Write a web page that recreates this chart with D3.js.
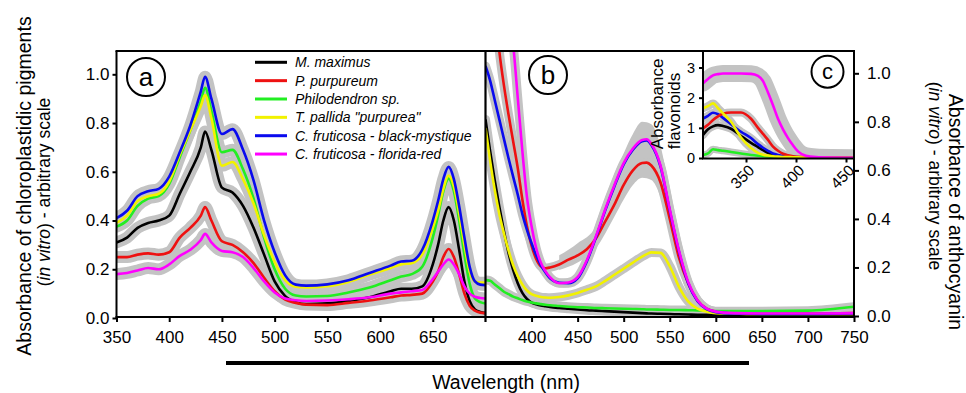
<!DOCTYPE html>
<html><head><meta charset="utf-8">
<script src="https://cdn.jsdelivr.net/npm/d3@7"></script>
<style>
body{margin:0;background:#fff}
svg text{font-family:Arial,"Liberation Sans",sans-serif;fill:#000}
</style>
</head><body>
<svg id="chart" width="966" height="393"></svg>
<script>
// ---------------- DATA ----------------
const seriesNames = ["M. maximus", "P. purpureum", "Philodendron sp.", "T. pallida \"purpurea\"", "C. fruticosa - black-mystique", "C. fruticosa - florida-red"];
const seriesColors = ["#000000", "#ee1111", "#22ee22", "#f2f200", "#0a0aee", "#ff00ff"];

// Panel a: chloroplastidic pigments
const waveA = [350,360,370,380,390,400,410,420,430,434,440,450,460,470,480,490,500,510,520,530,550,570,590,610,620,630,640,650,655,660,665,670,675,680,685,690,695,700];
const blackA = [0.31,0.33,0.37,0.39,0.40,0.42,0.51,0.60,0.70,0.765,0.69,0.535,0.515,0.46,0.37,0.26,0.15,0.09,0.065,0.057,0.06,0.07,0.085,0.11,0.12,0.12,0.13,0.22,0.30,0.40,0.455,0.40,0.28,0.15,0.07,0.035,0.025,0.02];
const redA = [0.25,0.25,0.26,0.265,0.26,0.27,0.33,0.37,0.42,0.455,0.40,0.315,0.30,0.27,0.225,0.165,0.11,0.075,0.062,0.055,0.053,0.062,0.072,0.085,0.092,0.095,0.10,0.15,0.19,0.25,0.283,0.25,0.18,0.10,0.05,0.03,0.022,0.02];
const greenA = [0.375,0.40,0.46,0.49,0.50,0.55,0.66,0.77,0.89,0.945,0.85,0.68,0.69,0.61,0.49,0.33,0.20,0.12,0.092,0.088,0.09,0.105,0.125,0.155,0.17,0.18,0.21,0.33,0.42,0.52,0.572,0.52,0.40,0.26,0.14,0.08,0.065,0.06];
const yellowA = [0.39,0.42,0.48,0.50,0.51,0.56,0.67,0.77,0.87,0.915,0.82,0.625,0.64,0.57,0.47,0.34,0.23,0.155,0.128,0.125,0.13,0.148,0.178,0.205,0.22,0.225,0.26,0.37,0.44,0.53,0.585,0.54,0.43,0.30,0.19,0.15,0.145,0.145];
const blueA = [0.41,0.44,0.50,0.52,0.53,0.58,0.68,0.79,0.93,0.99,0.90,0.755,0.775,0.69,0.565,0.40,0.27,0.175,0.137,0.133,0.138,0.155,0.185,0.215,0.232,0.235,0.28,0.40,0.48,0.57,0.62,0.57,0.46,0.33,0.21,0.15,0.137,0.135];
const magentaA = [0.18,0.185,0.195,0.205,0.20,0.22,0.255,0.28,0.32,0.345,0.31,0.275,0.27,0.25,0.205,0.15,0.105,0.08,0.073,0.07,0.072,0.077,0.085,0.10,0.105,0.11,0.115,0.16,0.19,0.22,0.24,0.22,0.18,0.13,0.10,0.087,0.082,0.08];

// Panel b: anthocyanin
const waveB = [350,355,360,365,370,375,380,385,390,395,400,405,410,415,420,430,440,450,460,470,480,490,500,510,520,525,530,540,550,560,570,580,590,600,620,650,700,750];
const blackB = [0.81,0.68,0.56,0.45,0.35,0.26,0.19,0.135,0.095,0.07,0.055,0.048,0.043,0.04,0.037,0.033,0.03,0.027,0.024,0.022,0.02,0.018,0.016,0.014,0.012,0.011,0.01,0.009,0.008,0.007,0.006,0.005,0.005,0.005,0.005,0.005,0.005,0.005];
const redB = [1.6,1.45,1.28,1.09,0.95,0.83,0.72,0.61,0.48,0.37,0.29,0.235,0.205,0.197,0.20,0.212,0.232,0.25,0.275,0.32,0.39,0.46,0.54,0.60,0.63,0.632,0.62,0.55,0.40,0.24,0.135,0.065,0.03,0.018,0.012,0.01,0.01,0.012];
const greenB = [0.148,0.145,0.13,0.115,0.10,0.09,0.08,0.073,0.066,0.06,0.056,0.052,0.049,0.046,0.044,0.041,0.038,0.036,0.035,0.033,0.032,0.031,0.03,0.029,0.028,0.027,0.027,0.026,0.025,0.025,0.024,0.023,0.022,0.02,0.02,0.02,0.022,0.038];
const yellowB = [0.775,0.64,0.52,0.42,0.34,0.27,0.21,0.165,0.13,0.105,0.09,0.083,0.078,0.076,0.075,0.078,0.085,0.095,0.108,0.122,0.145,0.17,0.195,0.22,0.245,0.255,0.262,0.26,0.205,0.12,0.06,0.03,0.018,0.012,0.01,0.008,0.008,0.008];
const blueB = [1.03,0.97,0.89,0.81,0.73,0.65,0.574,0.50,0.42,0.355,0.30,0.25,0.21,0.18,0.155,0.137,0.135,0.155,0.225,0.325,0.435,0.535,0.625,0.685,0.72,0.723,0.705,0.615,0.435,0.265,0.135,0.062,0.028,0.016,0.01,0.008,0.008,0.01];
const magentaB = [2.2,2.0,1.8,1.6,1.42,1.26,1.12,0.90,0.68,0.49,0.37,0.28,0.22,0.185,0.16,0.135,0.138,0.16,0.23,0.33,0.44,0.54,0.63,0.69,0.725,0.728,0.71,0.62,0.44,0.27,0.14,0.065,0.03,0.018,0.012,0.01,0.01,0.012];
// grey spread around the anthocyanin peak (panel b)
const bandWaveB = [430,450,470,490,500,510,520,530,540,550,560,570,580];
const bandLowB = [0.19,0.22,0.28,0.41,0.48,0.54,0.57,0.56,0.49,0.35,0.2,0.11,0.05];
const bandHighB = [0.25,0.3,0.37,0.58,0.67,0.75,0.80,0.79,0.70,0.51,0.32,0.17,0.08];

// Panel c (inset): flavonoids
const waveC = [307,312,317,322,327,335,345,355,362,367,372,377,382,387,392,397,402,410,420,435,457];
const blackC = [0.76,0.95,1.05,1.09,1.06,0.97,0.73,0.5,0.36,0.26,0.17,0.1,0.06,0.04,0.03,0.025,0.02,0.015,0.012,0.01,0.01];
const redC = [0.98,1.1,1.26,1.38,1.47,1.51,1.51,1.3,1.0,0.8,0.6,0.38,0.24,0.14,0.09,0.055,0.04,0.025,0.02,0.015,0.01];
const greenC = [0.1,0.15,0.29,0.26,0.24,0.2,0.15,0.1,0.075,0.06,0.05,0.04,0.03,0.025,0.02,0.017,0.015,0.012,0.01,0.01,0.01];
const yellowC = [1.65,1.72,1.81,1.65,1.48,1.2,0.68,0.33,0.17,0.11,0.08,0.06,0.045,0.035,0.03,0.025,0.02,0.015,0.012,0.01,0.01];
const blueC = [1.31,1.4,1.5,1.45,1.33,1.12,0.87,0.66,0.46,0.34,0.24,0.15,0.1,0.065,0.045,0.035,0.025,0.02,0.015,0.012,0.01];
const magentaC = [2.48,2.62,2.74,2.78,2.8,2.8,2.8,2.79,2.72,2.55,2.17,1.75,1.3,0.95,0.66,0.42,0.22,0.07,0.03,0.015,0.01];

const ticksYA = [0,0.2,0.4,0.6,0.8,1.0];
const ticksXA = [350,400,450,500,550,600,650];
const ticksXB = [400,450,500,550,600,650,700,750];
const ticksYC = [0,1,2,3];
const ticksXC = [350,400,450];

// ---------------- LAYOUT ----------------
const svg = d3.select("#chart");
const frameTop = 51, frameBottom = 317;
const xA = d3.scaleLinear().domain([350,700]).range([116.5,485.5]);
const xB = d3.scaleLinear().domain([350,750]).range([485.5,854]);
const yA = d3.scaleLinear().domain([0,1]).range([318,74.3]);
const yB = d3.scaleLinear().domain([0,1]).range([316,73.3]);
const xC = d3.scaleLinear().domain([307,457]).range([703,853]);
const yC = d3.scaleLinear().domain([0,3]).range([158,67.5]);

const defs = svg.append("defs");
defs.append("clipPath").attr("id","clipA").append("rect").attr("x",116.5).attr("y",frameTop).attr("width",369).attr("height",frameBottom-frameTop);
defs.append("clipPath").attr("id","clipB").append("rect").attr("x",485.5).attr("y",frameTop).attr("width",368.5).attr("height",frameBottom-frameTop);
defs.append("clipPath").attr("id","clipC").append("rect").attr("x",703).attr("y",frameTop).attr("width",150).attr("height",108);

const grey = "#c3c3c3";

function drawPanel(g, wave, sets, colors, xs, ys, greyW, lineW){
  const line = d3.line().x((d,i)=>xs(wave[i])).y(d=>ys(d)).curve(d3.curveMonotoneX);
  sets.forEach((s,k)=>{
    g.append("path").attr("d", line(s)).attr("fill","none").attr("stroke",grey)
      .attr("stroke-width", Array.isArray(greyW)?greyW[k]:greyW).attr("stroke-linejoin","round").attr("stroke-linecap","round");
  });
  sets.forEach((s,k)=>{
    g.append("path").attr("d", line(s)).attr("fill","none").attr("stroke",colors[k])
      .attr("stroke-width", lineW).attr("stroke-linejoin","round");
  });
}

// Panel a
const gA = svg.append("g").attr("clip-path","url(#clipA)");
drawPanel(gA, waveA, [blackA, redA, greenA, yellowA, blueA, magentaA], seriesColors, xA, yA, 12, 2.6);

// Panel b
const gB = svg.append("g").attr("clip-path","url(#clipB)");
const bandArea = d3.area().x((d,i)=>xB(bandWaveB[i])).y0((d,i)=>yB(bandLowB[i])).y1(d=>yB(d)).curve(d3.curveMonotoneX);
gB.append("path").attr("d", bandArea(bandHighB)).attr("fill",grey);
drawPanel(gB, waveB, [blackB, redB, greenB, yellowB, blueB, magentaB], seriesColors, xB, yB, 9, 2.6);

// Inset c
svg.append("rect").attr("x",703).attr("y",frameTop).attr("width",151).attr("height",108).attr("fill","#fff");
const gC = svg.append("g").attr("clip-path","url(#clipC)");
const orderC = [2,0,4,1,3,5];
drawPanel(gC, waveC, [greenC, blackC, blueC, redC, yellowC, magentaC], orderC.map(i=>seriesColors[i]), xC, yC, [7,8,8,8,8,17], 2.6);

// ---------------- FRAME ----------------
const frame = svg.append("g").attr("stroke","#000").attr("stroke-width",2).attr("fill","none");
frame.append("line").attr("x1",115.5).attr("x2",855).attr("y1",frameTop).attr("y2",frameTop);
frame.append("line").attr("x1",116.5).attr("x2",116.5).attr("y1",frameTop).attr("y2",frameBottom+1);
frame.append("line").attr("x1",854).attr("x2",854).attr("y1",frameTop).attr("y2",frameBottom+1);
frame.append("line").attr("x1",115.5).attr("x2",855).attr("y1",frameBottom).attr("y2",frameBottom);
frame.append("line").attr("x1",485.5).attr("x2",485.5).attr("y1",frameTop).attr("y2",frameBottom+5).attr("stroke-width",2.2);
frame.append("line").attr("x1",703).attr("x2",703).attr("y1",frameTop).attr("y2",159);
frame.append("line").attr("x1",702).attr("x2",854).attr("y1",158.5).attr("y2",158.5);

// ---------------- AXES ----------------
function styleAxis(g, fs){
  g.select(".domain").remove();
  g.selectAll("line").attr("stroke","#000").attr("stroke-width",2);
  g.selectAll("text").style("font-size",fs+"px").attr("fill","#000");
}
const axL = svg.append("g").attr("transform","translate(116.5,0)")
  .call(d3.axisLeft(yA).tickValues(ticksYA).tickFormat(d3.format(".1f")).tickSize(4).tickPadding(3));
styleAxis(axL, 17);
const axR = svg.append("g").attr("transform","translate(854,0)")
  .call(d3.axisRight(yB).tickValues(ticksYA).tickFormat(d3.format(".1f")).tickSize(5).tickPadding(8));
styleAxis(axR, 17);
const axBA = svg.append("g").attr("transform",`translate(0,${frameBottom})`)
  .call(d3.axisBottom(xA).tickValues(ticksXA).tickFormat(d3.format("d")).tickSize(5).tickPadding(9));
styleAxis(axBA, 17);
const axBB = svg.append("g").attr("transform",`translate(0,${frameBottom})`)
  .call(d3.axisBottom(xB).tickValues(ticksXB).tickFormat(d3.format("d")).tickSize(5).tickPadding(9));
styleAxis(axBB, 17);
const axCL = svg.append("g").attr("transform","translate(703,0)")
  .call(d3.axisLeft(yC).tickValues(ticksYC).tickFormat(d3.format("d")).tickSize(4).tickPadding(4));
styleAxis(axCL, 14.5);
const axCB = svg.append("g").attr("transform","translate(0,158.5)")
  .call(d3.axisBottom(xC).tickValues(ticksXC).tickFormat(d3.format("d")).tickSize(4).tickPadding(4));
styleAxis(axCB, 15.5);
axCB.selectAll("text").attr("text-anchor","end").attr("dy","0.35em")
  .attr("transform","translate(5,9) rotate(-45)").attr("y",0).attr("x",0);

// ---------------- LABELS ----------------
function circleLabel(cx, cy, r, t, fs){
  svg.append("circle").attr("cx",cx).attr("cy",cy).attr("r",r).attr("fill","#fff").attr("stroke","#000").attr("stroke-width",2);
  svg.append("text").attr("x",cx).attr("y",cy).attr("dy","0.35em").attr("text-anchor","middle").style("font-size",fs+"px").text(t);
}
circleLabel(146, 77, 19, "a", 26);
circleLabel(548, 75, 19, "b", 26);
circleLabel(827.5, 71.7, 16, "c", 22);

// Legend
const leg = svg.append("g");
seriesNames.forEach((n,i)=>{
  const y = 62.3 + i*18.35;
  leg.append("line").attr("x1",255).attr("x2",287).attr("y1",y).attr("y2",y).attr("stroke",seriesColors[i]).attr("stroke-width",3);
  leg.append("text").attr("x",295).attr("y",y).attr("dy","0.35em").style("font-size","14px").style("font-style","italic").text(n);
});

// Axis titles
svg.append("text").attr("transform","translate(31,186) rotate(-90)").attr("text-anchor","middle").style("font-size","19.5px")
  .text("Absorbance of chloroplastidic pigments");
const t2 = svg.append("text").attr("transform","translate(50,192) rotate(-90)").attr("text-anchor","middle").style("font-size","17.5px");
t2.append("tspan").text("(");
t2.append("tspan").style("font-style","italic").text("in vitro");
t2.append("tspan").text(") - arbitrary scale");

svg.append("text").attr("transform","translate(949,212) rotate(90)").attr("text-anchor","middle").style("font-size","19.5px")
  .text("Absorbance of anthocyanin");
const t4 = svg.append("text").attr("transform","translate(929,176) rotate(90)").attr("text-anchor","middle").style("font-size","17.5px");
t4.append("tspan").text("(");
t4.append("tspan").style("font-style","italic").text("in vitro");
t4.append("tspan").text(") - arbitrary scale");

svg.append("text").attr("transform","translate(663,104) rotate(-90)").attr("text-anchor","middle").style("font-size","17px")
  .text("Absorbance");
svg.append("text").attr("transform","translate(680,111) rotate(-90)").attr("text-anchor","middle").style("font-size","17px")
  .text("flavonoids");

svg.append("line").attr("x1",226).attr("x2",749).attr("y1",363).attr("y2",363).attr("stroke","#000").attr("stroke-width",4);
svg.append("text").attr("x",506).attr("y",389).attr("text-anchor","middle").style("font-size","19.5px").text("Wavelength (nm)");
</script>
</body></html>
